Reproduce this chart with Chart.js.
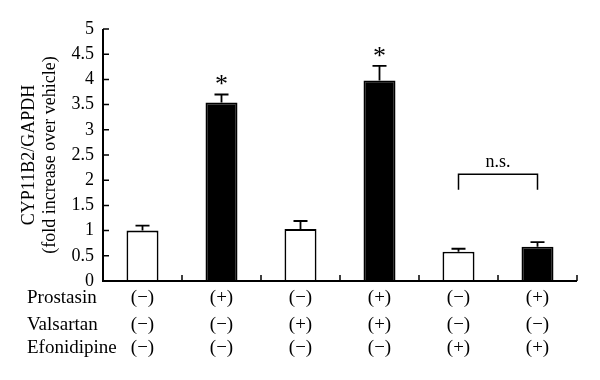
<!DOCTYPE html>
<html><head><meta charset="utf-8">
<script src="https://cdn.jsdelivr.net/npm/chart.js@4/dist/chart.umd.min.js"></script>
<style>html,body{margin:0;padding:0;background:#fff}canvas{display:block}</style>
</head><body>
<canvas id="c" width="600" height="380"></canvas>
<script>
const groups = ['G1','G2','G3','G4','G5','G6'];
const prostasin   = ['(−)','(+)','(−)','(+)','(−)','(+)'];
const valsartan   = ['(−)','(−)','(+)','(+)','(−)','(−)'];
const efonidipine = ['(−)','(−)','(−)','(−)','(+)','(+)'];
const rowNames = ['Prostasin','Valsartan','Efonidipine'];
const values = [1.0, 3.54, 1.03, 3.98, 0.58, 0.68];
const errors = [0.10, 0.16, 0.16, 0.29, 0.06, 0.09];
const significant = [false, true, false, true, false, false];
const bracketPair = [4, 5];
const bracketLevels = [2.12, 1.81];
const bracketLabel = 'n.s.';
const yTitle = ['CYP11B2/GAPDH', '(fold increase over vehicle)'];

const FONT = 'Liberation Serif';

const overlay = {
  id: 'overlay',
  afterDatasetsDraw(chart) {
    const ctx = chart.ctx, xs = chart.scales.x, ys = chart.scales.y;
    const meta = chart.getDatasetMeta(0);
    ctx.save();
    ctx.strokeStyle = '#000'; ctx.fillStyle = '#000';
    // error bars
    ctx.lineWidth = 1.8;
    meta.data.forEach((bar, i) => {
      const top = ys.getPixelForValue(values[i]);
      const et = ys.getPixelForValue(values[i] + errors[i]);
      ctx.beginPath();
      ctx.moveTo(bar.x, top); ctx.lineTo(bar.x, et);
      ctx.moveTo(bar.x - 7, et); ctx.lineTo(bar.x + 7, et);
      ctx.stroke();
      if (significant[i]) {
        ctx.font = '26px ' + FONT;
        ctx.textAlign = 'center'; ctx.textBaseline = 'middle';
        ctx.fillText('*', bar.x, et - 9);
      }
    });
    // axes
    ctx.lineWidth = 2;
    ctx.beginPath();
    ctx.moveTo(xs.left, ys.top); ctx.lineTo(xs.left, ys.bottom);
    ctx.lineTo(xs.right, ys.bottom);
    ctx.stroke();
    ctx.lineWidth = 1.5;
    ctx.beginPath();
    ys.ticks.forEach(t => {
      const py = ys.getPixelForValue(t.value);
      ctx.moveTo(xs.left, py); ctx.lineTo(xs.left + 6, py);
    });
    for (let i = 0; i < groups.length; i++) {
      const px = xs.getPixelForValue(i + 0.5);
      ctx.moveTo(px, ys.bottom); ctx.lineTo(px, ys.bottom - 6);
    }
    ctx.stroke();
    // bracket
    const b0 = meta.data[bracketPair[0]].x, b1 = meta.data[bracketPair[1]].x;
    const by = ys.getPixelForValue(bracketLevels[0]);
    const bl = ys.getPixelForValue(bracketLevels[1]);
    ctx.lineWidth = 1.5;
    ctx.beginPath();
    ctx.moveTo(b0, bl); ctx.lineTo(b0, by); ctx.lineTo(b1, by); ctx.lineTo(b1, bl);
    ctx.stroke();
    ctx.font = '18px ' + FONT;
    ctx.textAlign = 'center'; ctx.textBaseline = 'middle';
    ctx.fillText(bracketLabel, (b0 + b1) / 2, by - 12);
    // table
    const rows = [prostasin, valsartan, efonidipine];
    const rowY = [303, 330, 353];
    ctx.font = '19px ' + FONT;
    ctx.textBaseline = 'alphabetic';
    rows.forEach((row, r) => {
      ctx.textAlign = 'left';
      ctx.fillText(rowNames[r], 27, rowY[r]);
      ctx.textAlign = 'center';
      row.forEach((lab, i) => ctx.fillText(lab, xs.getPixelForValue(i), rowY[r]));
    });
    // y title
    ctx.save();
    ctx.font = '18px ' + FONT;
    ctx.textBaseline = 'middle';
    ctx.translate(0, 155);
    ctx.rotate(-Math.PI / 2);
    ctx.textAlign = 'center';
    ctx.fillText(yTitle[0], 0, 29);
    ctx.fillText(yTitle[1], 0, 50);
    ctx.restore();
    ctx.restore();
  }
};

new Chart(document.getElementById('c'), {
  type: 'bar',
  data: {
    labels: groups,
    datasets: [{
      data: values,
      backgroundColor: prostasin.map(p => p === '(+)' ? '#000' : '#fff'),
      borderColor: '#000',
      borderWidth: 1.8,
      categoryPercentage: 1,
      barPercentage: 0.405
    }]
  },
  options: {
    responsive: false,
    animation: false,
    devicePixelRatio: 1,
    layout: { padding: { top: 29, right: 23, left: 0, bottom: 0 } },
    plugins: { legend: { display: false }, tooltip: { enabled: false } },
    scales: {
      x: {
        type: 'category', offset: true,
        grid: { display: false, drawTicks: false },
        border: { display: false },
        ticks: { display: false },
        afterFit(s) { s.height = 99; }
      },
      y: {
        min: 0, max: 5,
        grid: { display: false, drawTicks: false },
        border: { display: false },
        ticks: { stepSize: 0.5, color: '#000', padding: 9, font: { family: FONT, size: 18 },
                 callback: v => String(v) },
        afterFit(s) { s.width = 103; }
      }
    }
  },
  plugins: [overlay]
});
</script>
</body></html>
